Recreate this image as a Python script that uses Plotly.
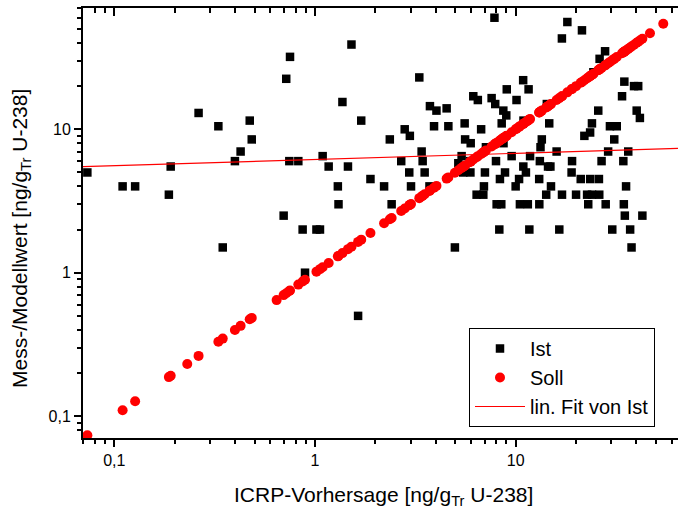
import plotly.graph_objects as go

# ICRP prediction (x) for every sample, in ng/g_Tr U-238
icrp = [0.0734, 0.110, 0.127, 0.187, 0.191, 0.231, 0.263, 0.330, 0.347, 0.399,
        0.426, 0.473, 0.484, 0.644, 0.698, 0.719, 0.745, 0.751, 0.826, 0.868,
        0.892, 1.017, 1.059, 1.092, 1.170, 1.300, 1.310,
        1.37, 1.46, 1.52, 1.64, 1.70, 1.89, 2.21, 2.36, 2.41, 2.69,
        2.80, 2.95, 2.97, 3.01, 3.31, 3.40, 3.44, 3.52, 3.72, 3.74,
        3.92, 4.03, 4.53, 4.62, 4.98, 5.18, 5.38, 5.48, 5.57, 5.60,
        5.92, 5.95, 5.97, 6.15, 6.39, 6.48, 6.73, 6.90, 6.95, 7.03,
        7.11, 7.59, 7.84, 7.91, 7.98, 8.04, 8.29, 8.35, 8.48, 8.52,
        8.68, 8.70, 8.85, 8.98, 9.03, 9.55, 10.0, 10.1, 10.4, 10.5,
        10.9, 10.92, 10.94, 11.25, 11.5, 11.6, 11.7, 11.8, 13.1, 13.12,
        13.2, 13.3, 13.5, 14.2, 14.3, 14.5, 14.7, 14.9, 15.0, 16.0,
        16.5, 17.0, 17.02, 18.1, 19.0, 19.1, 20.0, 21.1, 21.4, 22.0,
        22.7, 23.0, 23.5, 23.52, 24.0, 24.02, 24.4, 25.8, 26.0, 26.1,
        26.2, 26.8, 27.9, 28.1, 28.9, 29.5, 30.3, 31.0, 31.9, 33.9,
        34.4, 34.6, 34.8, 35.0, 35.5, 36.4, 37.2, 37.8, 38.9, 40.1,
        40.8, 41.6, 42.8, 46.7, 54.4]

# measured / model value (Ist); None where no square is visible
ist = [5.0, 4.0, 4.0, 3.5, 5.5, None, 13.0, 10.5, 1.5, 6.0,
       7.0, 11.5, 8.5, None, 2.5, 22.5, 6.0, 32.0, 6.0, 2.0,
       1.0, 2.0, 2.0, 6.5, 5.5, 4.0, 3.0,
       15.5, 5.5, 39.0, 0.5, 11.5, 4.5, 4.0, 8.5, 3.0, 6.0,
       10.0, 5.0, 9.0, 4.0, 23.0, 7.0, 6.0, 5.0, 4.0, 14.5,
       10.5, 13.5, 14.0, 10.5, 1.5, 5.8, 6.5, 5.0, 11.0, 8.5,
       6.0, 5.0, 8.0, 17.0, 3.5, 16.0, 10.0, 3.5, 4.0, 5.0,
       7.5, 16.5, 60.0, 15.0, 6.0, 3.0, 2.0, 4.5, 3.0, 11.0,
       13.5, 8.0, 5.0, 12.5, 19.0, 6.5, 4.0, 16.0, 4.5, 3.0,
       22.0, 5.5, 11.5, 5.0, 3.0, 19.0, 2.0, 6.5, 4.5, 3.0,
       6.0, 7.5, 8.5, 3.5, 15.0, 5.5, 11.0, 5.5, 4.0, 7.0,
       2.0, 43.0, 3.5, 56.0, 5.0, 6.0, 3.5, 4.5, 49.0, 9.0,
       3.5, 3.0, 9.5, 4.5, 11.0, 3.5, 25.0, 13.5, 4.5, 3.5,
       31.0, 6.0, 35.0, 3.0, 7.0, 10.5, 2.0, 8.5, 10.5, 17.0,
       6.0, 3.0, 21.5, 2.5, 4.0, 7.0, 2.0, 1.5, 20.0, 13.5,
       20.0, 12.0, 2.5, None, None]

# target value (Soll) equals the ICRP prediction
soll = list(icrp)

# linear fit of Ist (end points)
fit_x = [0.0698, 64.4]
fit_y = [5.49, 7.37]

major_vals = [0.1, 1, 10]
major_text = ["0,1", "1", "10"]
minor_x = [0.07, 0.08, 0.09, 0.2, 0.3, 0.4, 0.5, 0.6, 0.7, 0.8, 0.9,
           2, 3, 4, 5, 6, 7, 8, 9, 20, 30, 40, 50, 60]
minor_y = [0.08, 0.09, 0.2, 0.3, 0.4, 0.5, 0.6, 0.7, 0.8, 0.9,
           2, 3, 4, 5, 6, 7, 8, 9, 20, 30, 40, 50, 60, 70]

xr = [-1.156, 1.809]
yr = [-1.1527, 1.8459]

fig = go.Figure()
fig.add_trace(go.Scatter(x=icrp, y=ist, mode="markers", name="Ist",
                         marker=dict(symbol="square", size=8.5, color="black",
                                     line=dict(width=0))))
fig.add_trace(go.Scatter(x=icrp, y=soll, mode="markers", name="Soll",
                         marker=dict(symbol="circle", size=10, color="#ff0000",
                                     line=dict(width=0))))
fig.add_trace(go.Scatter(x=fit_x, y=fit_y, mode="lines", name="lin. Fit von Ist",
                         line=dict(color="#ff0000", width=1.2)))
fig.add_trace(go.Scatter(x=[], y=[], xaxis="x2", showlegend=False, hoverinfo="skip"))

tickfont = dict(family="Liberation Sans, Arial, sans-serif", size=16, color="black")

fig.update_layout(
    width=678, height=516,
    margin=dict(l=83, r=0, t=8, b=78),
    paper_bgcolor="white", plot_bgcolor="white",
    font=dict(family="Liberation Sans, Arial, sans-serif", color="black"),
    separators=",.",
    showlegend=True,
    legend=dict(x=(469 - 83) / 595, xanchor="left", y=(438 - 427) / 430, yanchor="bottom",
                bgcolor="white", bordercolor="black", borderwidth=1,
                font=dict(size=20), itemwidth=50, tracegroupgap=0),
    xaxis=dict(type="log", range=xr, showline=True, linewidth=2, linecolor="black",
               ticks="outside", ticklen=7, tickwidth=1.5, tickcolor="black",
               tickmode="array", tickvals=major_vals, ticktext=major_text,
               tickfont=tickfont, showgrid=False, zeroline=False, automargin=False,
               minor=dict(tickmode="array", tickvals=minor_x, ticks="outside",
                          ticklen=4, tickwidth=1.5, tickcolor="black", showgrid=False)),
    xaxis2=dict(type="log", range=xr, overlaying="x", side="top", anchor="y",
                showline=True, linewidth=2, linecolor="black",
                ticks="inside", ticklen=8, tickwidth=1.5, tickcolor="black",
                tickmode="array", tickvals=major_vals, showticklabels=False,
                showgrid=False, zeroline=False, automargin=False,
                minor=dict(tickmode="array", tickvals=minor_x, ticks="inside",
                           ticklen=5, tickwidth=1.5, tickcolor="black", showgrid=False)),
    yaxis=dict(type="log", range=yr, showline=True, linewidth=2, linecolor="black",
               ticks="outside", ticklen=7, tickwidth=1.5, tickcolor="black",
               tickmode="array", tickvals=major_vals, ticktext=major_text,
               tickfont=tickfont, showgrid=False, zeroline=False, automargin=False,
               minor=dict(tickmode="array", tickvals=minor_y, ticks="outside",
                          ticklen=4, tickwidth=1.5, tickcolor="black", showgrid=False)),
    annotations=[
        dict(text="ICRP-Vorhersage [ng/g<sub>Tr</sub> U-238]", xref="paper", yref="paper",
             x=(383.5 - 83) / 595, y=(438 - 496) / 430, xanchor="center", yanchor="middle",
             showarrow=False, font=dict(size=21)),
        dict(text="Mess-/Modellwert [ng/g<sub>Tr</sub> U-238]", xref="paper", yref="paper",
             x=(21 - 83) / 595, y=(438 - 239) / 430, xanchor="center", yanchor="middle",
             textangle=-90, showarrow=False, font=dict(size=21)),
    ],
)

fig.write_html("out.html", config={"displayModeBar": False},
               post_script="document.body.style.margin='0';document.body.style.overflow='hidden';")
